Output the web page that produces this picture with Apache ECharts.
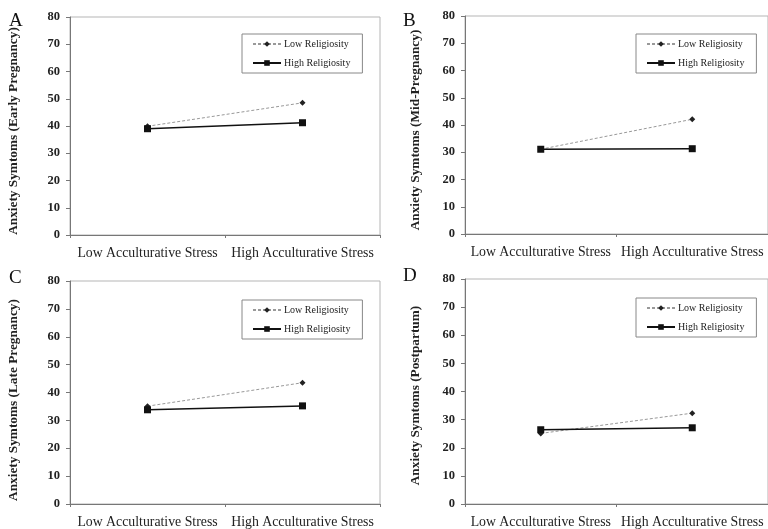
<!DOCTYPE html>
<html>
<head>
<meta charset="utf-8">
<script src="https://cdn.jsdelivr.net/npm/echarts@6/dist/echarts.min.js"></script>
<style>html,body{margin:0;padding:0;background:#fff}#c{width:768px;height:529px}</style>
</head>
<body>
<div id="c"></div>
<script>
const categories = ['Low Acculturative Stress', 'High Acculturative Stress'];
const seriesNames = ['Low Religiosity', 'High Religiosity'];
const panelLetters = ['A', 'B', 'C', 'D'];
const yAxisTitles = [
  'Anxiety Symtoms (Early Pregnancy)',
  'Anxiety Symtoms (Mid-Pregnancy)',
  'Anxiety Symtoms (Late Pregnancy)',
  'Anxiety Symtoms (Postpartum)'
];
const yMin = 0, yMax = 80, yInterval = 10;
const lowReligiosityA = [39.9, 48.5];
const highReligiosityA = [39.0, 41.2];
const lowReligiosityB = [31.1, 42.1];
const highReligiosityB = [31.1, 31.3];
const lowReligiosityC = [35.1, 43.5];
const highReligiosityC = [33.8, 35.2];
const lowReligiosityD = [25.1, 32.3];
const highReligiosityD = [26.4, 27.1];

const lowSets = [lowReligiosityA, lowReligiosityB, lowReligiosityC, lowReligiosityD];
const highSets = [highReligiosityA, highReligiosityB, highReligiosityC, highReligiosityD];

// layout
const grids = [
  {left: 70, top: 17, width: 310, height: 218},
  {left: 465, top: 16, width: 310, height: 218},
  {left: 70, top: 281, width: 310, height: 223},
  {left: 465, top: 279, width: 310, height: 225}
];
const nameGaps = [50, 43, 50, 43];
const nameShift = [10, 10, 15, 8];
const letterPos = [[9, 12], [403, 12], [9, 269], [403, 267]];
const legendPos = [[242, 34], [636, 34], [242, 300], [636, 298]];
const serif = '"Liberation Serif", "DejaVu Serif", serif';

const option = {
  backgroundColor: '#fff',
  animation: false,
  title: panelLetters.map((l, i) => ({
    text: l, left: letterPos[i][0], top: letterPos[i][1], padding: 0,
    textStyle: {fontFamily: serif, fontSize: 19, fontWeight: 'normal', color: '#111'}
  })),
  legend: legendPos.map((p, i) => ({
    data: seriesNames,
    orient: 'vertical',
    left: p[0], top: p[1],
    padding: [5, 12, 5, 10],
    itemWidth: 28, itemHeight: 7, itemGap: 9,
    borderColor: '#888', borderWidth: 1, borderRadius: 0,
    backgroundColor: '#fff',
    selectedMode: false,
    textStyle: {fontFamily: serif, fontSize: 10, color: '#222', padding: [0, 0, 0, -2]}
  })),
  grid: grids.map(g => Object.assign({show: true, borderColor: '#b5b5b5', borderWidth: 1, backgroundColor: 'transparent', containLabel: false}, g)),
  xAxis: grids.map((g, i) => ({
    type: 'category', gridIndex: i, data: categories, boundaryGap: true,
    axisLine: {lineStyle: {color: '#777', width: 1}},
    axisTick: {show: true, length: 3, interval: 0, lineStyle: {color: '#777'}},
    axisLabel: {fontFamily: serif, fontSize: 13.8, color: '#222', margin: 11, interval: 0}
  })),
  yAxis: grids.map((g, i) => ({
    type: 'value', gridIndex: i, min: yMin, max: yMax, interval: yInterval,
    name: yAxisTitles[i], nameLocation: 'middle', nameRotate: 90, nameGap: nameGaps[i],
    nameTextStyle: {fontFamily: serif, fontSize: 13.3, fontWeight: 'bold', color: '#222', padding: [0, nameShift[i], 0, 0]},
    axisLine: {show: true, lineStyle: {color: '#777', width: 1}},
    axisTick: {show: true, length: 4, lineStyle: {color: '#777'}},
    splitLine: {show: false},
    axisLabel: {fontFamily: serif, fontSize: 12.5, fontWeight: 'bold', color: '#222', margin: 10}
  })),
  series: []
};

for (let i = 0; i < 4; i++) {
  option.series.push({
    name: seriesNames[0], type: 'line', xAxisIndex: i, yAxisIndex: i,
    data: lowSets[i],
    symbol: 'diamond', symbolSize: 6,
    itemStyle: {color: '#222'},
    lineStyle: {color: '#999', width: 1, type: [3, 2]},
    z: 3
  });
  option.series.push({
    name: seriesNames[1], type: 'line', xAxisIndex: i, yAxisIndex: i,
    data: highSets[i],
    symbol: 'rect', symbolSize: 7,
    itemStyle: {color: '#111'},
    lineStyle: {color: '#111', width: 1.5},
    z: 4
  });
}

const chart = echarts.init(document.getElementById('c'), null, {renderer: 'canvas'});
chart.setOption(option);
</script>
</body>
</html>
